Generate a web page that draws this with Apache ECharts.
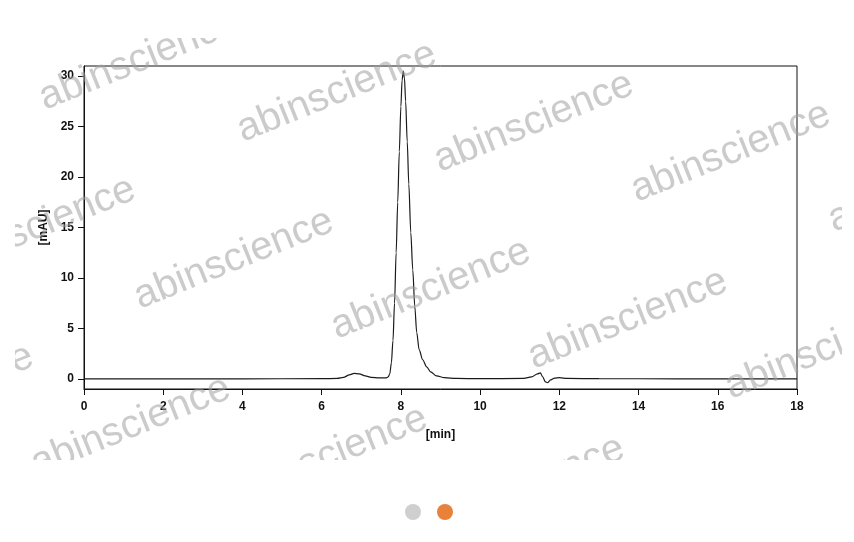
<!DOCTYPE html>
<html>
<head>
<meta charset="utf-8">
<script src="https://cdn.jsdelivr.net/npm/echarts@6/dist/echarts.min.js"></script>
<style>
  html, body { margin: 0; padding: 0; background: #fff; }
  #wrap { position: relative; width: 854px; height: 542px; }
  #chart { position: absolute; left: 0; top: 0; width: 854px; height: 542px; }
  #mark { position: absolute; left: 15px; top: 38px; width: 827px; height: 422px; overflow: hidden; pointer-events: none; }
</style>
</head>
<body>
<div id="wrap">
  <div id="chart"></div>
  <svg id="mark" width="827" height="422"></svg>
</div>
<script type="text/javascript">
// retention time [min] and absorbance [mAU]
const times = [0, 2, 4, 6.0, 6.4, 6.55, 6.7, 6.82, 6.95, 7.1, 7.25, 7.45, 7.62, 7.68, 7.72, 7.76, 7.8, 7.84, 7.88, 7.92, 7.96, 8.0, 8.03, 8.06, 8.09, 8.12, 8.16, 8.2, 8.25, 8.3, 8.35, 8.4, 8.46, 8.55, 8.65, 8.75, 8.9, 9.1, 9.4, 10, 11.1, 11.3, 11.45, 11.52, 11.58, 11.65, 11.7, 11.78, 11.88, 12.0, 12.2, 13, 15, 18];
const mAU = [0, 0, 0.01, 0.02, 0.05, 0.15, 0.4, 0.55, 0.5, 0.3, 0.15, 0.1, 0.1, 0.2, 0.5, 1.6, 3.8, 7.5, 12.5, 17.5, 22.5, 27, 29.6, 30.5, 29.8, 27.5, 23.5, 19.3, 14.5, 10.8, 7.2, 4.6, 2.9, 1.9, 1.2, 0.7, 0.3, 0.12, 0.05, 0.02, 0.05, 0.2, 0.5, 0.6, 0.2, -0.3, -0.38, -0.1, 0.08, 0.12, 0.05, 0.02, 0.01, 0];
const yTicks = [0, 5, 10, 15, 20, 25, 30];
const xTicks = [0, 2, 4, 6, 8, 10, 12, 14, 16, 18];
const watermark = 'abinscience';

const chart = echarts.init(document.getElementById('chart'));
const font = '"Liberation Sans", Arial, sans-serif';

chart.setOption({
    animation: false,
    grid: {
        left: 84, right: 57, top: 66, bottom: 153,
        show: true, borderColor: '#111', borderWidth: 1
    },
    xAxis: {
        type: 'value', min: 0, max: 18, interval: 2,
        name: '[min]', nameLocation: 'middle', nameGap: 40,
        nameTextStyle: { color: '#111', fontWeight: 'bold', fontSize: 12, fontFamily: font },
        axisLine: { onZero: false, lineStyle: { color: '#111' } },
        axisTick: { length: 6, lineStyle: { color: '#111' } },
        axisLabel: { color: '#111', fontWeight: 'bold', fontSize: 12, fontFamily: font, margin: 12,
            customValues: xTicks },
        splitLine: { show: false }
    },
    yAxis: {
        type: 'value', min: -1, max: 31,
        name: '[mAU]', nameLocation: 'middle', nameGap: 31, nameRotate: 90,
        nameTextStyle: { color: '#111', fontWeight: 'bold', fontSize: 12, fontFamily: font },
        axisLine: { onZero: false, lineStyle: { color: '#111' } },
        axisTick: { length: 6, lineStyle: { color: '#111' }, customValues: yTicks },
        axisLabel: { color: '#111', fontWeight: 'bold', fontSize: 12, fontFamily: font, margin: 10,
            customValues: yTicks },
        splitLine: { show: false }
    },
    series: [{
        type: 'line',
        data: times.map((t, i) => [t, mAU[i]]),
        showSymbol: false,
        smooth: 0.3,
        smoothMonotone: 'x',
        lineStyle: { color: '#1a1a1a', width: 1.2 }
    }],
    graphic: [
        { type: 'circle', shape: { cx: 413, cy: 512, r: 8 }, style: { fill: '#cfcfcf' } },
        { type: 'circle', shape: { cx: 445, cy: 512, r: 8 }, style: { fill: '#e8823a' } }
    ]
});

// watermark overlay, clipped to the picture frame
const starts = [
    [-152, 80], [45, 110], [243, 142], [440, 172], [637, 202], [834, 232],
    [-58, 277], [140, 309], [337, 339], [534, 369], [731, 399],
    [-160, 444], [37, 476], [234, 506], [431, 536]
];
const svg = document.getElementById('mark');
starts.forEach(function (p) {
    const x = p[0] - 15, y = p[1] - 38;
    const t = document.createElementNS('http://www.w3.org/2000/svg', 'text');
    t.setAttribute('x', x);
    t.setAttribute('y', y);
    t.setAttribute('transform', 'rotate(-22 ' + x + ' ' + y + ')');
    t.setAttribute('font-family', '"Liberation Sans", Arial, sans-serif');
    t.setAttribute('font-size', '40');
    t.setAttribute('fill', 'rgba(160,160,160,0.55)');
    t.textContent = watermark;
    svg.appendChild(t);
});
</script>
</body>
</html>
